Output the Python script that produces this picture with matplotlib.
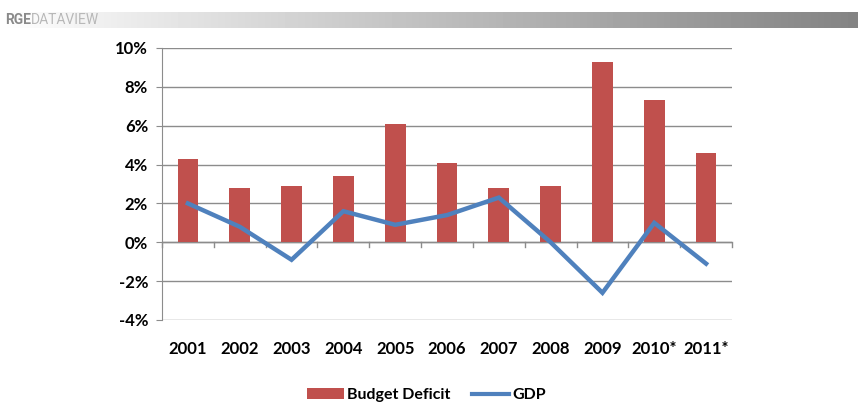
import matplotlib.pyplot as plt
import numpy as np
from matplotlib.lines import Line2D
from matplotlib.patches import Patch

# -------------------------- Data --------------------------

years = ["2001", "2002", "2003", "2004", "2005", "2006",
         "2007", "2008", "2009", "2010*", "2011*"]
budget_deficit = [4.3, 2.8, 2.9, 3.4, 6.1, 4.1, 2.8, 2.9, 9.3, 7.3, 4.6]
gdp = [2.0, 0.8, -0.9, 1.6, 0.9, 1.4, 2.3, 0.0, -2.6, 1.0, -1.1]
y_ticks = [-4, -2, 0, 2, 4, 6, 8, 10]

BAR_COLOR = "#C0504D"
LINE_COLOR = "#4F81BD"
GRID_COLOR = "#8C8C8C"

plt.rcParams["font.family"] = ["Lato", "DejaVu Sans"]

fig = plt.figure(figsize=(8.58, 4.05), dpi=100)

# -------------------------- Header band --------------------------

hdr = fig.add_axes([0.0, 1 - 28 / 405, 1.0, 16 / 405])
grad = np.linspace(1.0, 0.6, 256) ** 1.3
hdr.imshow(grad.reshape(1, -1), cmap="gray", vmin=0, vmax=1, aspect="auto",
           extent=[0, 1, 0, 1])
hdr.set_axis_off()
fig.text(0.006, 1 - 20 / 405, "RGE", fontsize=10, fontweight="bold",
         color="#8a8a8a", va="center", ha="left", family=["Roboto", "DejaVu Sans"])
fig.text(0.0355, 1 - 20 / 405, "DATAVIEW", fontsize=10,
         color="#b8b8b8", va="center", ha="left", family=["Roboto", "DejaVu Sans"])

# -------------------------- Main chart --------------------------

ax = fig.add_axes([162 / 858, 1 - 320 / 405, 570 / 858, 272 / 405])
x = np.arange(len(years))

ax.bar(x, budget_deficit, width=0.4, color=BAR_COLOR, zorder=2)
ax.plot(x, gdp, color=LINE_COLOR, linewidth=3.2, zorder=3,
        solid_joinstyle="miter")

ax.set_xlim(-0.5, len(years) - 0.5)
ax.set_ylim(-4, 10)
ax.set_yticks(y_ticks)
ax.set_yticklabels([f"{v}%" for v in y_ticks], fontsize=12, fontweight="bold")
ax.yaxis.grid(True, color=GRID_COLOR, linewidth=1.0, zorder=0)
ax.set_axisbelow(True)

for side in ["top", "right", "bottom"]:
    ax.spines[side].set_visible(False)
ax.spines["left"].set_color(GRID_COLOR)
ax.tick_params(axis="y", length=4, color=GRID_COLOR, pad=6)

# x axis at zero with tick marks between categories
ax.axhline(0, color=GRID_COLOR, linewidth=1.0, zorder=1)
for b in np.arange(-0.5, len(years), 1.0):
    ax.plot([b, b], [0, -0.25], color=GRID_COLOR, linewidth=1.0,
            zorder=1, clip_on=False)

ax.set_xticks(x)
ax.set_xticklabels(years, fontsize=12, fontweight="bold")
ax.tick_params(axis="x", length=0, pad=15)

# -------------------------- Legend --------------------------

handles = [Patch(facecolor=BAR_COLOR, label="Budget Deficit"),
           Line2D([0], [0], color=LINE_COLOR, linewidth=3, label="GDP")]
leg = fig.legend(handles=handles, loc="center", bbox_to_anchor=(0.497, 1 - 395 / 405),
                 ncol=2, frameon=False, fontsize=11.5, handlelength=2.3,
                 handleheight=0.7, columnspacing=1.4, handletextpad=0.2)
for t in leg.get_texts():
    t.set_fontweight("bold")

fig.savefig("out.png", dpi=100)
